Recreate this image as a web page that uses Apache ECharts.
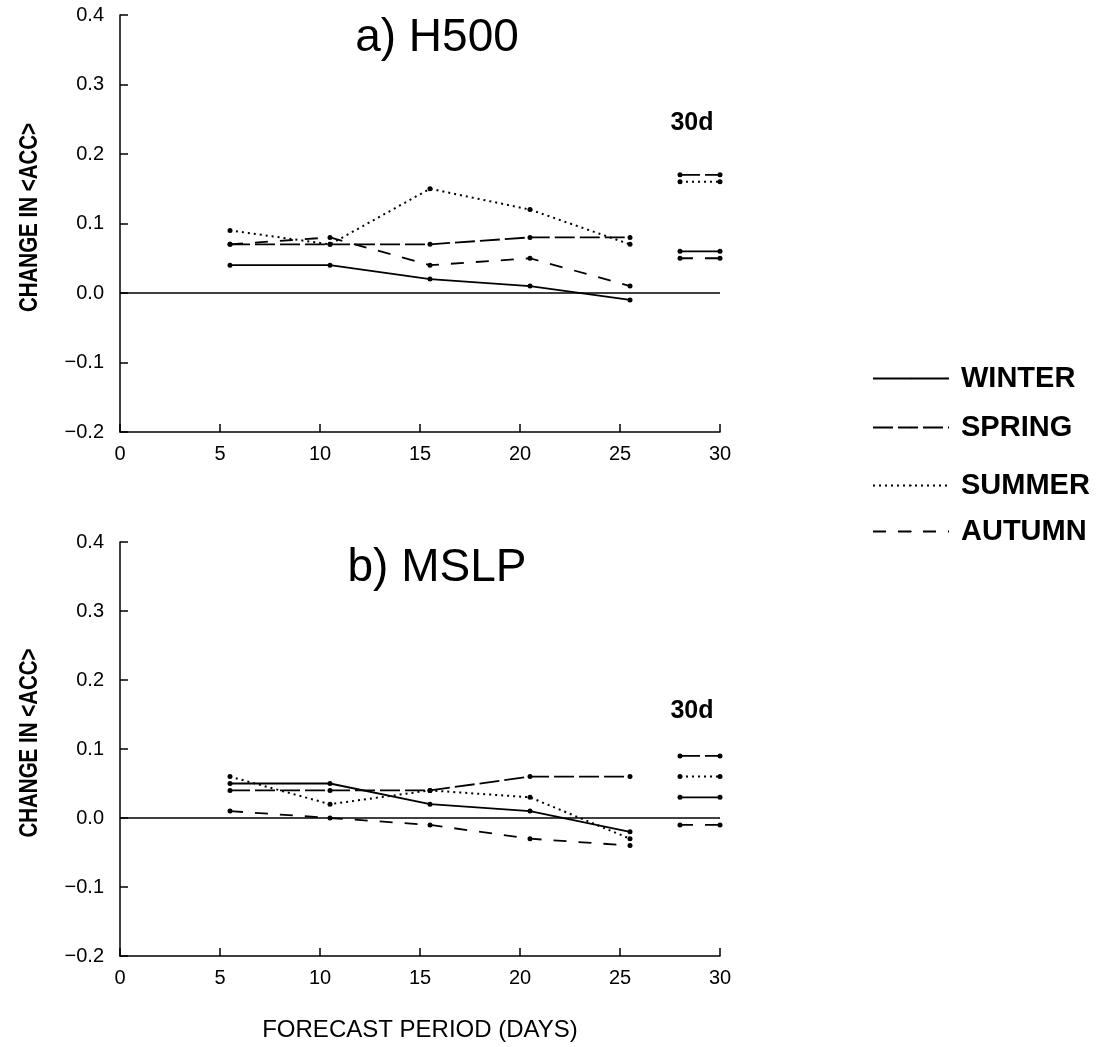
<!DOCTYPE html>
<html>
<head>
<meta charset="utf-8">
<script src="https://cdn.jsdelivr.net/npm/echarts@6/dist/echarts.min.js"></script>
<style>
  html, body { margin: 0; padding: 0; background: #fff; }
  #chart { width: 1104px; height: 1047px; }
</style>
</head>
<body>
<div id="chart"></div>
<script>
// Forecast periods (centre day of each averaging window) and the 30-day mean bar
const days = [5.5, 10.5, 15.5, 20.5, 25.5];
const days30 = [28, 30];
const seasons = ['WINTER', 'SPRING', 'SUMMER', 'AUTUMN'];

// a) H500 : change in mean anomaly correlation
const h500Winter = [0.04, 0.04, 0.02, 0.01, -0.01];
const h500Spring = [0.07, 0.07, 0.07, 0.08, 0.08];
const h500Summer = [0.09, 0.07, 0.15, 0.12, 0.07];
const h500Autumn = [0.07, 0.08, 0.04, 0.05, 0.01];
// 30-day values: winter, spring, summer, autumn
const h500Month = [0.06, 0.17, 0.16, 0.05];

// b) MSLP
const mslpWinter = [0.05, 0.05, 0.02, 0.01, -0.02];
const mslpSpring = [0.04, 0.04, 0.04, 0.06, 0.06];
const mslpSummer = [0.06, 0.02, 0.04, 0.03, -0.03];
const mslpAutumn = [0.01, 0.00, -0.01, -0.03, -0.04];
const mslpMonth = [0.03, 0.09, 0.06, -0.01];

const panelTitles = ['a) H500', 'b) MSLP'];
const monthLabel = '30d';
const yAxisTitle = 'CHANGE IN <ACC>';
const xAxisTitle = 'FORECAST PERIOD (DAYS)';

const FONT = '"Liberation Sans", Arial, Helvetica, sans-serif';

const lineStyles = {
  WINTER: { type: 'solid', width: 1.8 },
  SPRING: { type: [20, 5], width: 1.8 },
  SUMMER: { type: [2, 4], width: 2 },
  AUTUMN: { type: [13, 12], width: 1.8 }
};

const panels = [
  { series: [h500Winter, h500Spring, h500Summer, h500Autumn], month: h500Month },
  { series: [mslpWinter, mslpSpring, mslpSummer, mslpAutumn], month: mslpMonth }
];

function fmtTick(v) {
  if (Math.abs(v) < 1e-9) return '0.0';
  return (v < 0 ? '\u2212' : '') + Math.abs(v).toFixed(1);
}

const grids = [
  { left: 120, top: 15, width: 600, height: 417 },
  { left: 120, top: 542, width: 600, height: 414 }
];

const axisLineStyle = { color: '#000', width: 1.5 };

const xAxes = grids.map((g, i) => ({
  gridIndex: i,
  type: 'value',
  min: 0, max: 30, interval: 5,
  axisLine: { onZero: false, lineStyle: axisLineStyle },
  axisTick: { inside: true, length: 8, lineStyle: axisLineStyle },
  axisLabel: { color: '#000', fontSize: 20, fontFamily: FONT, margin: 12 },
  splitLine: { show: false },
  name: i === 1 ? xAxisTitle : '',
  nameLocation: 'middle',
  nameGap: 62,
  nameTextStyle: { color: '#000', fontSize: 24, fontFamily: FONT, fontWeight: 'normal' }
}));

const yAxes = grids.map((g, i) => ({
  gridIndex: i,
  type: 'value',
  min: -0.2, max: 0.4, interval: 0.1,
  axisLine: { show: true, onZero: false, lineStyle: axisLineStyle },
  axisTick: { show: true, inside: true, length: 8, lineStyle: axisLineStyle },
  axisLabel: { color: '#000', fontSize: 20, fontFamily: FONT, margin: 16, formatter: fmtTick },
  splitLine: { show: false }
}));

const series = [];
panels.forEach((p, gi) => {
  seasons.forEach((s, si) => {
    const common = {
      name: s,
      type: 'line',
      xAxisIndex: gi,
      yAxisIndex: gi,
      symbol: 'circle',
      symbolSize: 5,
      color: '#000',
      itemStyle: { color: '#000' },
      lineStyle: Object.assign({ color: '#000' }, lineStyles[s]),
      silent: true,
      animation: false
    };
    const main = Object.assign({}, common, {
      data: days.map((d, k) => [d, p.series[si][k]])
    });
    if (si === 0) {
      main.markLine = {
        silent: true,
        symbol: ['none', 'none'],
        label: { show: false },
        lineStyle: { color: '#000', width: 1.5, type: 'solid' },
        data: [{ yAxis: 0 }]
      };
    }
    series.push(main);
    series.push(Object.assign({}, common, {
      data: days30.map(d => [d, p.month[si]])
    }));
  });
});

// one legend block per season so each row sits where it belongs
const legendRows = [
  { name: 'WINTER', top: 364, left: 872 },
  { name: 'SPRING', top: 413, left: 872 },
  { name: 'SUMMER', top: 471, left: 872 },
  { name: 'AUTUMN', top: 517, left: 872 }
];
const legends = legendRows.map(r => ({
  data: [r.name],
  left: r.left,
  top: r.top,
  padding: 0,
  orient: 'vertical',
  itemWidth: 76,
  itemHeight: 2,
  selectedMode: false,
  textStyle: { color: '#000', fontSize: 29, fontWeight: 'bold', fontFamily: FONT, padding: [0, 0, 0, 7] }
}));

const titles = panelTitles.map((t, i) => ({
  text: t,
  left: 437,
  top: i === 0 ? 38 : 568,
  padding: 0,
  textAlign: 'center',
  textVerticalAlign: 'middle',
  textStyle: { color: '#000', fontSize: 46, fontWeight: 'normal', fontFamily: FONT }
}));

const chart = echarts.init(document.getElementById('chart'), null, { renderer: 'canvas' });
chart.setOption({
  backgroundColor: '#fff',
  animation: false,
  title: titles,
  legend: legends,
  grid: grids,
  xAxis: xAxes,
  yAxis: yAxes,
  series: series
});

// "30d" captions and the condensed vertical axis titles, placed from data coordinates
const monthLabelPos = [[28.6, 0.245], [28.6, 0.155]];
const graphics = [];
monthLabelPos.forEach((pos, gi) => {
  const px = chart.convertToPixel({ gridIndex: gi }, pos);
  graphics.push({
    type: 'text',
    x: px[0],
    y: px[1],
    silent: true,
    style: {
      text: monthLabel,
      fill: '#000',
      fontSize: 25,
      fontWeight: 'bold',
      fontFamily: FONT,
      align: 'center',
      verticalAlign: 'middle'
    }
  });
});
grids.forEach((g, gi) => {
  const mid = chart.convertToPixel({ gridIndex: gi }, [0, 0.1]);
  graphics.push({
    type: 'text',
    x: 30,
    y: mid[1] - 6,
    rotation: Math.PI / 2,
    scaleX: 0.82,
    silent: true,
    style: {
      text: yAxisTitle,
      fill: '#000',
      fontSize: 25,
      fontWeight: 'bold',
      fontFamily: FONT,
      align: 'center',
      verticalAlign: 'middle'
    }
  });
});
chart.setOption({ graphic: graphics });
</script>
</body>
</html>
